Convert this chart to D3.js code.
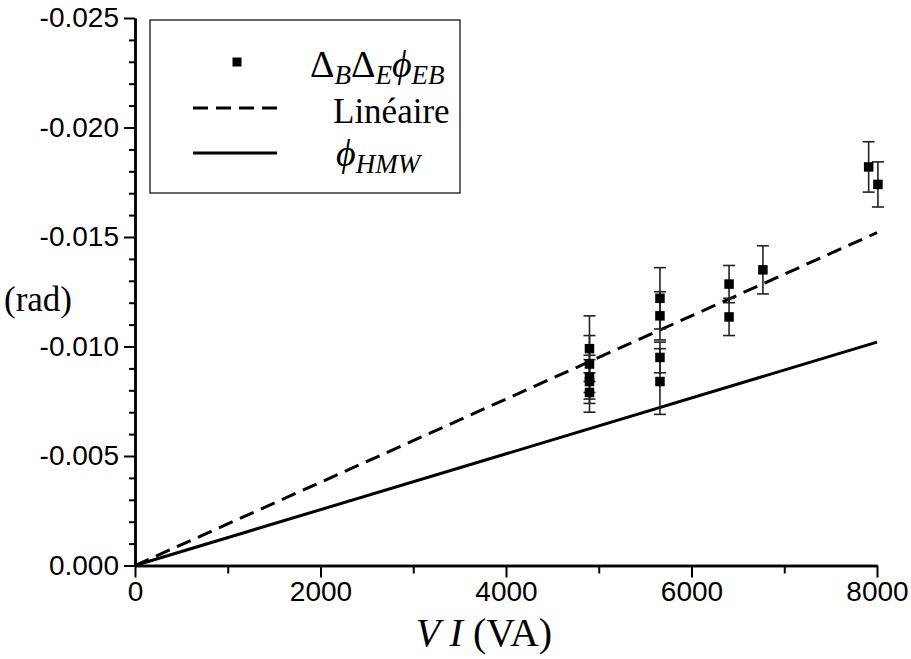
<!DOCTYPE html>
<html>
<head>
<meta charset="utf-8">
<script src="https://cdn.jsdelivr.net/npm/d3@7"></script>
<style>
  html, body { margin: 0; padding: 0; background: #fff; }
  svg { display: block; }
</style>
</head>
<body>
<svg id="chart" width="911" height="659"></svg>
<script>
// ---------- data ----------
const xTicks = [0, 2000, 4000, 6000, 8000];
const xMinorTicks = [1000, 3000, 5000, 7000];
const yTicks = [0, -0.005, -0.010, -0.015, -0.020, -0.025];
const yMinorTicks = [-0.001, -0.002, -0.003, -0.004, -0.006, -0.007, -0.008, -0.009,
  -0.011, -0.012, -0.013, -0.014, -0.016, -0.017, -0.018, -0.019,
  -0.021, -0.022, -0.023, -0.024];

const pointX   = [4900, 4900, 4900, 4900, 4900, 5660, 5660, 5660, 5660, 6405, 6405, 6770, 7910, 8010];
const pointY   = [-0.0099, -0.0092, -0.0086, -0.0084, -0.0079, -0.0122, -0.0114, -0.0095, -0.0084, -0.01285, -0.01135, -0.0135, -0.0182, -0.0174];
const pointErr = [0.0015, 0.0013, 0.0010, 0.0010, 0.0009, 0.0014, 0.0011, 0.0007, 0.0015, 0.00085, 0.00085, 0.0011, 0.00115, 0.00103];

const lineX = [0, 8000];
const linearY = [0, -0.0152];
const hmwY = [0, -0.0102];

// ---------- layout ----------
const svg = d3.select("#chart");
const x = d3.scaleLinear().domain([0, 8000]).range([135, 877]);
const y = d3.scaleLinear().domain([0, -0.025]).range([565.5, 18]);

const sansFont = "'Liberation Sans', Arial, sans-serif";
const serifFont = "'Liberation Serif', 'DejaVu Serif', 'Times New Roman', serif";

// lines
const lineGen = d3.line().x(d => x(d[0])).y(d => y(d[1]));
svg.append("path")
  .datum(d3.zip(lineX, hmwY))
  .attr("d", lineGen)
  .attr("fill", "none").attr("stroke", "#000").attr("stroke-width", 3);
svg.append("path")
  .datum(d3.zip(lineX, linearY))
  .attr("d", lineGen)
  .attr("fill", "none").attr("stroke", "#000").attr("stroke-width", 3)
  .attr("stroke-dasharray", "15,8");

// error bars
const pts = pointX.map((v, i) => ({x: v, y: pointY[i], e: pointErr[i]}));
const eb = svg.append("g").attr("stroke", "#222").attr("stroke-width", 1.6);
pts.forEach(p => {
  const cx = x(p.x), y1 = y(p.y - p.e), y2 = y(p.y + p.e);
  eb.append("line").attr("x1", cx).attr("x2", cx).attr("y1", y1).attr("y2", y2);
  eb.append("line").attr("x1", cx - 6).attr("x2", cx + 6).attr("y1", y1).attr("y2", y1);
  eb.append("line").attr("x1", cx - 6).attr("x2", cx + 6).attr("y1", y2).attr("y2", y2);
});
// markers
const ms = 9.5;
svg.append("g").selectAll("rect").data(pts).join("rect")
  .attr("x", d => x(d.x) - ms / 2).attr("y", d => y(d.y) - ms / 2)
  .attr("width", ms).attr("height", ms).attr("fill", "#000");

// axes
function styleAxis(g) {
  g.select(".domain").attr("stroke", "#000").attr("stroke-width", 2.5);
  g.selectAll(".tick line").attr("stroke", "#000").attr("stroke-width", 2);
  g.selectAll(".tick text").attr("fill", "#000")
    .style("font-family", sansFont).style("font-size", "28px");
}
const yAxisMinor = svg.append("g").attr("transform", "translate(135,0)")
  .call(d3.axisLeft(y).tickValues(yMinorTicks).tickSize(6).tickSizeOuter(0).tickFormat(""));
styleAxis(yAxisMinor);
const yAxis = svg.append("g").attr("transform", "translate(135,0)")
  .call(d3.axisLeft(y).tickValues(yTicks).tickSize(11).tickSizeOuter(0).tickPadding(5)
    .tickFormat(d => d.toFixed(3)));
styleAxis(yAxis);

const xAxisMinor = svg.append("g").attr("transform", "translate(0,565.5)")
  .call(d3.axisBottom(x).tickValues(xMinorTicks).tickSize(8).tickSizeOuter(0).tickFormat(""));
styleAxis(xAxisMinor);
const xAxis = svg.append("g").attr("transform", "translate(0,565.5)")
  .call(d3.axisBottom(x).tickValues(xTicks).tickSize(12).tickSizeOuter(0).tickPadding(4)
    .tickFormat(d => String(d)));
styleAxis(xAxis);

// axis titles
const xt = svg.append("text").attr("x", 484).attr("y", 646).attr("text-anchor", "middle")
  .style("font-family", serifFont).style("font-size", "40px").attr("fill", "#000");
xt.append("tspan").attr("font-style", "italic").text("V I");
xt.append("tspan").text(" (VA)");

svg.append("text").attr("x", 4).attr("y", 311)
  .style("font-family", serifFont).style("font-size", "35px").attr("fill", "#000")
  .text("(rad)");

// legend
const lg = svg.append("g");
lg.append("rect").attr("x", 150).attr("y", 20).attr("width", 310).attr("height", 173)
  .attr("fill", "#fff").attr("stroke", "#000").attr("stroke-width", 1.2);
lg.append("rect").attr("x", 237 - 4.5).attr("y", 62 - 4.5).attr("width", 9).attr("height", 9).attr("fill", "#000");
lg.append("line").attr("x1", 193).attr("x2", 277).attr("y1", 108).attr("y2", 108)
  .attr("stroke", "#000").attr("stroke-width", 3).attr("stroke-dasharray", "15,8");
lg.append("line").attr("x1", 193).attr("x2", 277).attr("y1", 153).attr("y2", 153)
  .attr("stroke", "#000").attr("stroke-width", 3);

const t1 = lg.append("text").attr("x", 310).attr("y", 77)
  .style("font-family", serifFont).style("font-size", "38px").attr("fill", "#000");
t1.append("tspan").text("Δ");
t1.append("tspan").attr("font-style", "italic").attr("font-size", "27px").attr("dy", 7).text("B");
t1.append("tspan").attr("dy", -7).text("Δ");
t1.append("tspan").attr("font-style", "italic").attr("font-size", "27px").attr("dy", 7).text("E");
t1.append("tspan").attr("font-style", "italic").attr("dy", -7).text("ϕ");
t1.append("tspan").attr("font-style", "italic").attr("font-size", "27px").attr("dy", 7).text("EB");

lg.append("text").attr("x", 333).attr("y", 123)
  .style("font-family", serifFont).style("font-size", "35px").attr("fill", "#000")
  .text("Linéaire");

const t3 = lg.append("text").attr("x", 336).attr("y", 166)
  .style("font-family", serifFont).style("font-size", "38px").attr("fill", "#000");
t3.append("tspan").attr("font-style", "italic").text("ϕ");
t3.append("tspan").attr("font-style", "italic").attr("font-size", "27px").attr("dy", 7).text("HMW");
</script>
</body>
</html>
